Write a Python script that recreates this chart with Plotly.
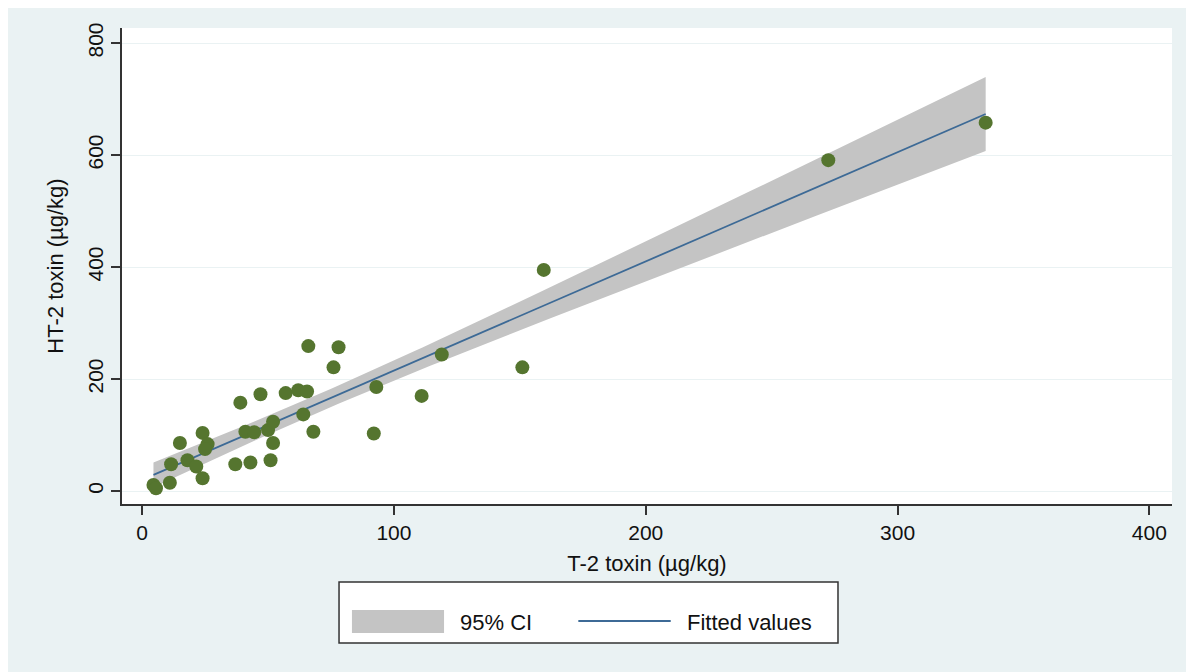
import numpy as np
import plotly.graph_objects as go

# T-2 toxin (x) and HT-2 toxin (y), µg/kg
t2_toxin = [4.5, 5.5, 11, 11.5, 18, 21.5, 24, 15, 24, 26, 25,
            37, 43, 51, 52, 41, 44.5, 50, 52, 64, 68,
            39, 47, 57, 62, 65.5, 66, 78, 76, 93, 92,
            111, 119, 151, 159.5, 272.5, 335]
ht2_toxin = [11, 5, 15, 48, 55, 44, 23, 86, 104, 84, 75,
             48, 51, 55, 86, 106, 105, 109, 124, 137, 106,
             158, 173, 175, 180, 178, 259, 257, 221, 186, 103,
             170, 244, 221, 395, 591, 658]

x_ticks = [0, 100, 200, 300, 400]
y_ticks = [0, 200, 400, 600, 800]
legend_labels = ["95% CI", "Fitted values"]

# Linear fit with 95% CI of the mean prediction (as Stata lfitci)
x = np.array(t2_toxin, dtype=float)
y = np.array(ht2_toxin, dtype=float)
n = len(x)
xbar = x.mean()
sxx = ((x - xbar) ** 2).sum()
slope = ((x - xbar) * (y - y.mean())).sum() / sxx
icpt = y.mean() - slope * xbar
resid = y - (icpt + slope * x)
s = np.sqrt((resid ** 2).sum() / (n - 2))
tcrit = 2.0301  # t(0.975, 35)
xg = np.linspace(x.min(), x.max(), 100)
yg = icpt + slope * xg
se = s * np.sqrt(1.0 / n + (xg - xbar) ** 2 / sxx)
lo = yg - tcrit * se
hi = yg + tcrit * se

BG = "#eaf2f3"
CI_COL = "#c4c4c4"
LINE_COL = "#3d6a96"
PT_COL = "#55752f"
FONT = "Liberation Sans, Arial, sans-serif"

fig = go.Figure()
fig.add_trace(go.Scatter(x=xg, y=lo, mode="lines", line=dict(width=0, color=CI_COL),
                         showlegend=False, hoverinfo="skip"))
fig.add_trace(go.Scatter(x=xg, y=hi, mode="lines", line=dict(width=0, color=CI_COL),
                         fill="tonexty", fillcolor=CI_COL, name=legend_labels[0],
                         showlegend=False))
fig.add_trace(go.Scatter(x=xg, y=yg, mode="lines", line=dict(width=1.8, color=LINE_COL),
                         name=legend_labels[1], showlegend=False))
fig.add_trace(go.Scatter(x=t2_toxin, y=ht2_toxin, mode="markers",
                         marker=dict(size=14, color=PT_COL, line=dict(width=0)),
                         showlegend=False))

# Manual Stata-style legend below the plot
L = dict(xref="paper", yref="paper")
fig.add_shape(type="rect", x0=0.2067, x1=0.6819, y0=-0.292, y1=-0.1639,
              line=dict(color="#333333", width=1.5), fillcolor="white", **L)
fig.add_shape(type="rect", x0=0.219, x1=0.3067, y0=-0.271, y1=-0.2227,
              line=dict(width=0), fillcolor=CI_COL, **L)
fig.add_shape(type="line", x0=0.4346, x1=0.5226, y0=-0.2458, y1=-0.2458,
              line=dict(color=LINE_COL, width=1.8), **L)
fig.add_annotation(x=0.32, y=-0.2494, text=legend_labels[0], showarrow=False,
                   xanchor="left", yanchor="middle", font=dict(size=22, color="#111111", family=FONT), **L)
fig.add_annotation(x=0.5362, y=-0.2494, text=legend_labels[1], showarrow=False,
                   xanchor="left", yanchor="middle", font=dict(size=22, color="#111111", family=FONT), **L)

fig.update_layout(
    width=1194, height=672,
    paper_bgcolor=BG, plot_bgcolor="white",
    margin=dict(l=114, r=30, t=20, b=176),
    font=dict(family=FONT, size=21, color="#111111"),
    showlegend=False,
    xaxis=dict(range=[-8, 409], tickvals=x_ticks, ticks="outside", ticklen=9, tickwidth=1.5,
               tickcolor="#333333", showline=True, linecolor="#333333", linewidth=2,
               showgrid=False, zeroline=False, tickfont=dict(size=21),
               title=dict(text="T-2 toxin (µg/kg)", font=dict(size=22), standoff=12)),
    yaxis=dict(range=[-23, 827], tickvals=y_ticks, ticks="outside", ticklen=9, tickwidth=1.5,
               tickcolor="#333333", showline=True, linecolor="#333333", linewidth=2,
               showgrid=True, gridcolor=BG, gridwidth=1.2, zeroline=False,
               tickangle=-90, tickfont=dict(size=21),
               title=dict(text="HT-2 toxin (µg/kg)", font=dict(size=22), standoff=14)),
)

fig.write_html("out.html")
